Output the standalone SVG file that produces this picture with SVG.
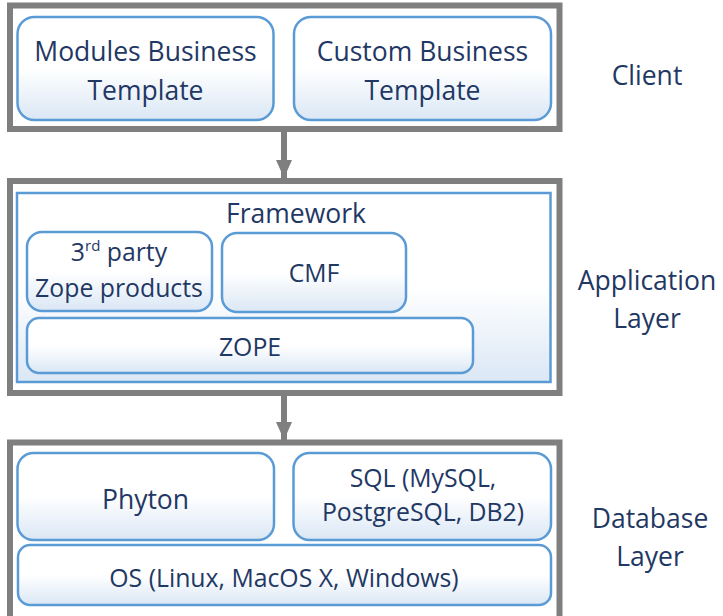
<svg xmlns="http://www.w3.org/2000/svg" width="723" height="616" viewBox="0 0 723 616">
<defs>
<linearGradient id="g" x1="0" y1="0" x2="0" y2="1">
<stop offset="0" stop-color="#ffffff"/>
<stop offset="0.5" stop-color="#ffffff"/>
<stop offset="1" stop-color="#dae7f5"/>
</linearGradient>
<marker id="ah" viewBox="0 0 18 16" refX="18" refY="8" markerWidth="18" markerHeight="16" markerUnits="userSpaceOnUse" orient="auto">
<path d="M0,0 L18,8 L0,16 Z" fill="#7f7f7f"/>
</marker>
<style>
.layer{fill:#ffffff;stroke:#7f7f7f;stroke-width:6}
.node{fill:url(#g);stroke:#5b9bd5;stroke-width:2.5}
.t{font-family:"Open Sans","Noto Sans",sans-serif;fill:#1f3864;text-anchor:middle}
.big{font-size:26.5px}
.sm{font-size:24.8px}
.conn{stroke:#7f7f7f;stroke-width:6;fill:none}
</style>
</defs>
<g id="client-layer">
<rect class="layer" x="10" y="5.5" width="549.5" height="123.5"/>
<text class="t big" x="647" y="85">Client</text>
</g>
<g id="modules-business-template">
<rect class="node" x="17.5" y="17" width="256" height="103" rx="17"/>
<text class="t big" x="145.5" y="61">Modules Business</text>
<text class="t big" x="145.5" y="100">Template</text>
</g>
<g id="custom-business-template">
<rect class="node" x="294" y="17" width="257" height="103" rx="17"/>
<text class="t big" x="422.5" y="61">Custom Business</text>
<text class="t big" x="422.5" y="100">Template</text>
</g>
<g id="application-layer">
<rect class="layer" x="10" y="181" width="549.5" height="212"/>
<text class="t big" x="647" y="290">Application</text>
<text class="t big" x="647" y="328">Layer</text>
</g>
<g id="framework">
<rect class="node" x="17" y="193" width="533.5" height="189"/>
<text class="t big" x="296" y="223">Framework</text>
</g>
<g id="third-party">
<rect class="node" x="27" y="232" width="185" height="79" rx="15"/>
<text class="t sm" x="119" y="261">3<tspan font-size="15" dy="-10">rd</tspan><tspan dy="10"> party</tspan></text>
<text class="t sm" x="119" y="297">Zope products</text>
</g>
<g id="cmf">
<rect class="node" x="222" y="233" width="184" height="79" rx="15"/>
<text class="t sm" x="314" y="282">CMF</text>
</g>
<g id="zope">
<rect class="node" x="27" y="318" width="446" height="55" rx="12"/>
<text class="t sm" x="250" y="356">ZOPE</text>
</g>
<g id="database-layer">
<rect class="layer" x="10" y="442.5" width="549.5" height="180"/>
<text class="t big" x="650" y="528">Database</text>
<text class="t big" x="650" y="566">Layer</text>
</g>
<g id="phyton">
<rect class="node" x="17.5" y="453" width="256.5" height="87" rx="16"/>
<text class="t big" x="145.5" y="509">Phyton</text>
</g>
<g id="sql">
<rect class="node" x="293.5" y="453" width="257.5" height="87" rx="16"/>
<text class="t sm" x="423" y="487">SQL (MySQL,</text>
<text class="t sm" x="423" y="521">PostgreSQL, DB2)</text>
</g>
<g id="os">
<rect class="node" x="18" y="545" width="533" height="60" rx="12"/>
<text class="t sm" x="284" y="587">OS (Linux, MacOS X, Windows)</text>
</g>
<g id="connectors">
<line class="conn" x1="284" y1="132" x2="284" y2="178" marker-end="url(#ah)"/>
<line class="conn" x1="284" y1="396" x2="284" y2="440" marker-end="url(#ah)"/>
</g>
</svg>
